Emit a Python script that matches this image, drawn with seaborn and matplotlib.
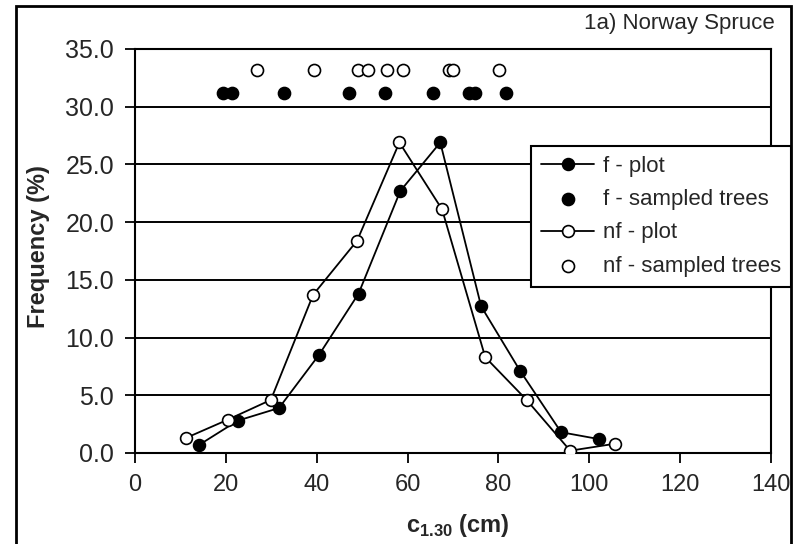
import matplotlib
matplotlib.use("Agg")
import matplotlib.pyplot as plt
import seaborn as sns
import pandas as pd
from matplotlib.patches import Rectangle

# ---- data ----
f_plot_x = [14.1, 22.6, 31.7, 40.5, 49.2, 58.4, 67.2, 76.2, 84.8, 93.8, 102.2]
f_plot_y = [0.7, 2.8, 3.9, 8.5, 13.8, 22.7, 26.9, 12.7, 7.1, 1.8, 1.2]
nf_plot_x = [11.2, 20.5, 29.9, 39.2, 48.9, 58.2, 67.6, 77.1, 86.2, 95.8, 105.6]
nf_plot_y = [1.3, 2.9, 4.6, 13.7, 18.4, 26.9, 21.1, 8.3, 4.6, 0.2, 0.8]
f_trees_x = [19.4, 21.4, 32.8, 47.0, 55.0, 65.7, 73.5, 74.8, 81.6]
f_trees_y = [31.2, 31.2, 31.2, 31.2, 31.2, 31.2, 31.2, 31.2, 31.2]
nf_trees_x = [26.8, 39.3, 49.1, 51.3, 55.5, 58.9, 69.1, 70.0, 80.1]
nf_trees_y = [33.2, 33.2, 33.2, 33.2, 33.2, 33.2, 33.2, 33.2, 33.2]
x_ticks = [0, 20, 40, 60, 80, 100, 120, 140]
y_ticks = [0, 5, 10, 15, 20, 25, 30, 35]

sns.set_style("white")
plt.rcParams['font.family'] = ['Liberation Sans', 'DejaVu Sans']
plt.rcParams['mathtext.fontset'] = 'custom'
plt.rcParams['mathtext.rm'] = 'Liberation Sans'
plt.rcParams['mathtext.bf'] = 'Liberation Sans:bold'

W, H = 796, 544
fig = plt.figure(figsize=(W / 100, H / 100), dpi=100)
ax = fig.add_axes([135 / W, 1 - 453 / H, (771 - 135) / W, (453 - 49) / H])

df_f = pd.DataFrame({"x": f_plot_x, "y": f_plot_y})
df_nf = pd.DataFrame({"x": nf_plot_x, "y": nf_plot_y})
df_ft = pd.DataFrame({"x": f_trees_x, "y": f_trees_y})
df_nft = pd.DataFrame({"x": nf_trees_x, "y": nf_trees_y})

sns.lineplot(data=df_f, x="x", y="y", ax=ax, color="black", linewidth=1.3,
             marker="o", markersize=8.5, markerfacecolor="black",
             markeredgecolor="black", markeredgewidth=1.2,
             label="f - plot", zorder=4)
sns.scatterplot(data=df_ft, x="x", y="y", ax=ax, s=75, color="black",
                edgecolor="black", linewidth=1.2, label="f - sampled trees",
                zorder=4)
sns.lineplot(data=df_nf, x="x", y="y", ax=ax, color="black", linewidth=1.3,
             marker="o", markersize=8.5, markerfacecolor="white",
             markeredgecolor="black", markeredgewidth=1.2,
             label="nf - plot", zorder=5)
sns.scatterplot(data=df_nft, x="x", y="y", ax=ax, s=75, color="white",
                edgecolor="black", linewidth=1.2, label="nf - sampled trees",
                zorder=4)

ax.set_xlim(0, 140)
ax.set_ylim(0, 35)
ax.set_xticks(x_ticks)
ax.set_xticklabels([str(v) for v in x_ticks])
ax.set_yticks(y_ticks)
ax.set_yticklabels([f"{v:.1f}" for v in y_ticks])
ax.yaxis.grid(True, color="black", linewidth=1.4)
ax.xaxis.grid(False)
ax.set_axisbelow(True)
for s in ax.spines.values():
    s.set_color("black")
    s.set_linewidth(1.5)
ax.tick_params(axis="both", length=7, width=1.3, color="black",
               direction="out", pad=8, left=True, bottom=True)
ax.tick_params(axis="x", labelsize=17)
ax.tick_params(axis="y", labelsize=18)

ax.set_ylabel("Frequency (%)", fontsize=17, fontweight="bold")
ax.yaxis.set_label_coords(-0.134, 0.51)
ax.set_xlabel(r"c$_{\mathbf{1.30}}$ (cm)", fontsize=17, fontweight="bold")
ax.xaxis.set_label_coords(0.508, -0.146)

handles, labels = ax.get_legend_handles_labels()
leg = ax.legend(handles, labels, loc="upper left",
                bbox_to_anchor=(531 / W, 1 - 146 / H),
                bbox_transform=fig.transFigure, fontsize=16,
                handlelength=2.4, handletextpad=0.4, borderpad=0.45,
                labelspacing=0.55, borderaxespad=0, fancybox=False,
                framealpha=1, edgecolor="black", scatterpoints=1, numpoints=1)
leg.get_frame().set_linewidth(1.5)

fig.text(775 / W, 1 - 24 / H, "1a) Norway Spruce", ha="right", va="center",
         fontsize=16)
fig.patches.append(Rectangle((16 / W, -0.02), (791 - 16) / W, 1.02 - 6 / H,
                             transform=fig.transFigure, fill=False,
                             edgecolor="black", linewidth=2, zorder=0))

fig.savefig("out.png", dpi=100)
